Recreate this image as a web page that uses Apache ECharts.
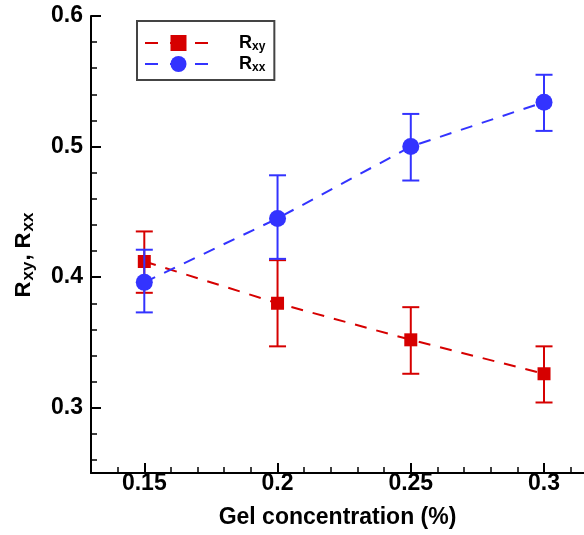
<!DOCTYPE html>
<html>
<head>
<meta charset="utf-8">
<script src="https://cdn.jsdelivr.net/npm/echarts@6/dist/echarts.min.js"></script>
<style>html,body{margin:0;padding:0;background:#fff}#c{width:584px;height:535px}</style>
</head>
<body>
<div id="c"></div>
<script>
const concentrations = [0.15, 0.2, 0.25, 0.3];
const rxy = [0.412, 0.380, 0.352, 0.326];
const rxyLow = [0.388, 0.347, 0.326, 0.304];
const rxyHigh = [0.435, 0.413, 0.377, 0.347];
const rxx = [0.396, 0.445, 0.500, 0.534];
const rxxLow = [0.373, 0.414, 0.474, 0.512];
const rxxHigh = [0.421, 0.478, 0.525, 0.555];
const xMajorTicks = [0.15, 0.2, 0.25, 0.3];
const xMinorTicks = [0.13, 0.14, 0.16, 0.17, 0.18, 0.19, 0.21, 0.22, 0.23, 0.24, 0.26, 0.27, 0.28, 0.29, 0.31];
const yMajorTicks = [0.3, 0.4, 0.5, 0.6];
const yMinorTicks = [0.26, 0.28, 0.32, 0.34, 0.36, 0.38, 0.42, 0.44, 0.46, 0.48, 0.52, 0.54, 0.56, 0.58];

const RED = '#d60000', BLUE = '#3333ff';
const FONT = 'Liberation Sans';

function errSeries(name, low, high, color, z) {
  return {
    type: 'custom', name: name + '_err', z: z,
    xAxisIndex: 0, yAxisIndex: 0,
    data: concentrations.map((x, i) => [x, low[i], high[i]]),
    encode: { x: 0, y: [1, 2] },
    silent: true,
    renderItem: function (params, api) {
      const x = api.value(0), lo = api.value(1), hi = api.value(2);
      const pt = api.coord([x, hi]), pb = api.coord([x, lo]);
      const hw = 8.5;
      const st = { stroke: color, lineWidth: 2 };
      return { type: 'group', children: [
        { type: 'line', shape: { x1: pt[0], y1: pt[1], x2: pb[0], y2: pb[1] }, style: st },
        { type: 'line', shape: { x1: pt[0] - hw, y1: pt[1], x2: pt[0] + hw, y2: pt[1] }, style: st },
        { type: 'line', shape: { x1: pb[0] - hw, y1: pb[1], x2: pb[0] + hw, y2: pb[1] }, style: st }
      ]};
    }
  };
}

const axisLineStyle = { color: '#000', width: 2 };
const labelFont = { fontFamily: FONT, fontWeight: 'bold', fontSize: 23, color: '#000' };

const option = {
  animation: false,
  backgroundColor: '#fff',
  grid: { left: 91, right: 0, top: 16, bottom: 62, containLabel: false },
  legend: {
    orient: 'vertical', left: 137, top: 21,
    padding: [12, 9, 6, 7],
    borderColor: '#444', borderWidth: 2,
    itemWidth: 67, itemHeight: 20, itemGap: 1,
    data: ['Rxy', 'Rxx'],
    lineStyle: { type: [13, 12] },
    formatter: function (n) { return n === 'Rxy' ? '{b|R}{s|xy}' : '{b|R}{s|xx}'; },
    textStyle: {
      padding: [0, 0, 0, 22],
      rich: {
        b: { fontFamily: FONT, fontWeight: 'bold', fontSize: 18, lineHeight: 20, color: '#000' },
        s: { fontFamily: FONT, fontWeight: 'bold', fontSize: 12, lineHeight: 12, color: '#000', padding: [8, 0, 0, 0] }
      }
    }
  },
  xAxis: [{
    type: 'value', min: 0.13, max: 0.315,
    name: 'Gel concentration (%)', nameLocation: 'middle', nameGap: 33,
    nameTextStyle: { fontFamily: FONT, fontWeight: 'bold', fontSize: 23, color: '#000' },
    axisLine: { show: true, onZero: false, lineStyle: axisLineStyle },
    axisTick: { show: true, inside: true, length: 10, lineStyle: { color: '#000', width: 2 }, customValues: xMajorTicks },
    axisLabel: Object.assign({ margin: -1, customValues: xMajorTicks, formatter: v => String(+v.toFixed(2)) }, labelFont),
    splitLine: { show: false }
  }, {
    type: 'value', min: 0.13, max: 0.315, position: 'bottom',
    axisLine: { show: false },
    axisTick: { show: true, inside: true, length: 6, lineStyle: { color: '#000', width: 1.5 }, customValues: xMinorTicks },
    axisLabel: { show: false }, splitLine: { show: false }
  }],
  yAxis: [{
    type: 'value', min: 0.25, max: 0.6,
    name: '{b|R}{s|xy}{b|, R}{e|xx}', nameLocation: 'middle', nameGap: 54, nameRotate: 90,
    nameTextStyle: {
      rich: {
        b: { fontFamily: FONT, fontWeight: 'bold', fontSize: 22, color: '#000' },
        s: { fontFamily: FONT, fontWeight: 'bold', fontSize: 17, color: '#000', padding: [10, 1, 0, 1] },
        e: { fontFamily: FONT, fontWeight: 'bold', fontSize: 17, color: '#000', padding: [10, 21, 0, 1] }
      }
    },
    axisLine: { show: true, onZero: false, lineStyle: axisLineStyle },
    axisTick: { show: true, inside: true, length: 10, lineStyle: { color: '#000', width: 2 }, customValues: yMajorTicks },
    axisLabel: Object.assign({ margin: 8, customValues: yMajorTicks, formatter: v => String(+v.toFixed(2)) }, labelFont),
    splitLine: { show: false }
  }, {
    type: 'value', min: 0.25, max: 0.6, position: 'left',
    axisLine: { show: false },
    axisTick: { show: true, inside: true, length: 6, lineStyle: { color: '#000', width: 1.5 }, customValues: yMinorTicks },
    axisLabel: { show: false }, splitLine: { show: false }
  }],
  series: [
    errSeries('Rxy', rxyLow, rxyHigh, RED, 2),
    {
      type: 'line', name: 'Rxy', z: 3,
      data: concentrations.map((x, i) => [x, rxy[i]]),
      symbol: 'rect', symbolSize: 13,
      itemStyle: { color: RED },
      lineStyle: { color: RED, width: 2, type: [12, 10] }
    },
    errSeries('Rxx', rxxLow, rxxHigh, BLUE, 4),
    {
      type: 'line', name: 'Rxx', z: 5,
      data: concentrations.map((x, i) => [x, rxx[i]]),
      symbol: 'circle', symbolSize: 17,
      itemStyle: { color: BLUE },
      lineStyle: { color: BLUE, width: 2, type: [12, 10] }
    }
  ]
};
const chart = echarts.init(document.getElementById('c'), null, { renderer: 'canvas' });
chart.setOption(option);
</script>
</body>
</html>
